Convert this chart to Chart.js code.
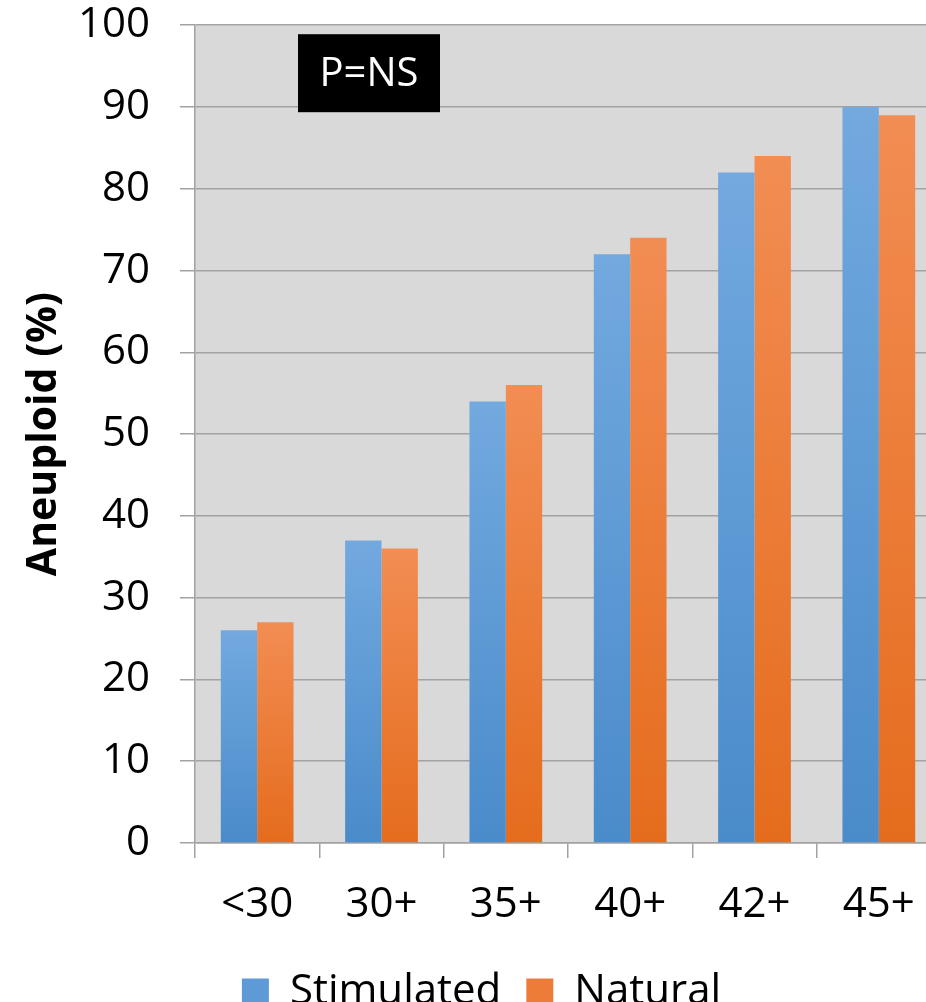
<!DOCTYPE html>
<html>
<head>
<meta charset="utf-8">
<script src="https://cdn.jsdelivr.net/npm/chart.js@4/dist/chart.umd.min.js"></script>
<style>
html,body{margin:0;padding:0;background:#fff;overflow:hidden;width:926px;height:1002px;}
#wrap{position:absolute;left:0;top:-30px;width:945px;height:1053px;}
</style>
</head>
<body>
<div id="wrap"><canvas id="c" width="945" height="1053"></canvas></div>
<script>
const categories = ['<30', '30+', '35+', '40+', '42+', '45+'];
const stimulated = [26, 37, 54, 72, 82, 90];
const natural = [27, 36, 56, 74, 84, 89];
const seriesNames = ['Stimulated', 'Natural'];
const yTicks = { min: 0, max: 100, step: 10 };
const annotationText = 'P=NS';
const yTitle = 'Aneuploid (%)';

const FONT = "'Open Sans', 'Noto Sans', sans-serif";
const GRID = '#a2a2a2';

function barGradient(top, bottom) {
  return (ctx) => {
    const chart = ctx.chart;
    const y = chart.scales && chart.scales.y;
    if (!chart.chartArea || !y || ctx.raw === undefined) return bottom;
    const y0 = y.getPixelForValue(ctx.raw);
    const y1 = y.getPixelForValue(0);
    const g = chart.ctx.createLinearGradient(0, y0, 0, y1);
    g.addColorStop(0, top);
    g.addColorStop(1, bottom);
    return g;
  };
}

const plotBg = {
  id: 'plotBg',
  beforeDraw(chart) {
    const {ctx, chartArea} = chart;
    ctx.save();
    ctx.fillStyle = '#d9d9d9';
    ctx.fillRect(chartArea.left, chartArea.top, chartArea.right - chartArea.left, chartArea.bottom - chartArea.top);
    ctx.restore();
  }
};

const legendShift = {
  id: 'legendShift',
  afterLayout(chart) {
    if (chart.legend) { chart.legend.left += 11; chart.legend.right += 11; }
  }
};

const pBox = {
  id: 'pBox',
  afterDatasetsDraw(chart) {
    const {ctx, chartArea} = chart;
    const x = chartArea.left + 103, y = chartArea.top + 9, w = 142, h = 78;
    ctx.save();
    ctx.fillStyle = '#000';
    ctx.fillRect(x, y, w, h);
    ctx.fillStyle = '#fff';
    ctx.font = "40px " + FONT;
    ctx.textAlign = 'center';
    ctx.textBaseline = 'middle';
    ctx.fillText(annotationText, x + w / 2, y + h / 2 + 1);
    ctx.restore();
  }
};

new Chart(document.getElementById('c'), {
  type: 'bar',
  data: {
    labels: categories,
    datasets: [
      { label: seriesNames[0], data: stimulated, backgroundColor: barGradient('#72a9df', '#4a8bca'), borderWidth: 0 },
      { label: seriesNames[1], data: natural, backgroundColor: barGradient('#f28d53', '#e56c1d'), borderWidth: 0 }
    ]
  },
  options: {
    responsive: false,
    devicePixelRatio: 1,
    animation: false,
    layout: { padding: { top: 0, right: 4, left: 0, bottom: 0 } },
    datasets: { bar: { categoryPercentage: 0.585, barPercentage: 1.0 } },
    plugins: {
      legend: {
        position: 'bottom',
        labels: {
          font: { family: FONT, size: 42 },
          color: '#000',
          boxWidth: 27,
          boxHeight: 27,
          padding: 25,
          generateLabels(chart) {
            const cols = ['#5d9ad6', '#ee7c39'];
            return chart.data.datasets.map((d, i) => ({
              text: d.label, fillStyle: cols[i], strokeStyle: cols[i], lineWidth: 0, datasetIndex: i, hidden: false
            }));
          }
        }
      },
      tooltip: { enabled: false }
    },
    scales: {
      x: {
        grid: { display: true, drawOnChartArea: false, drawTicks: true, tickLength: 15, color: GRID, lineWidth: 1.5, offset: true },
        border: { display: true, color: GRID, width: 1.5 },
        ticks: { font: { family: FONT, size: 42 }, color: '#000', padding: 22, maxRotation: 0 },
        afterFit(s) { s.height = 103; }
      },
      y: {
        min: yTicks.min, max: yTicks.max,
        grid: { color: GRID, lineWidth: 1.5, tickLength: 15, drawTicks: true },
        border: { display: true, color: GRID, width: 1.5 },
        ticks: { stepSize: yTicks.step, font: { family: FONT, size: 42 }, color: '#000', padding: 30 },
        title: { display: true, text: yTitle, font: { family: FONT, size: 41, weight: 'bold' }, color: '#000', padding: { top: 20, bottom: 0 } },
        afterFit(s) { s.width = 195; }
      }
    }
  },
  plugins: [plotBg, pBox, legendShift]
});
</script>
</body>
</html>
